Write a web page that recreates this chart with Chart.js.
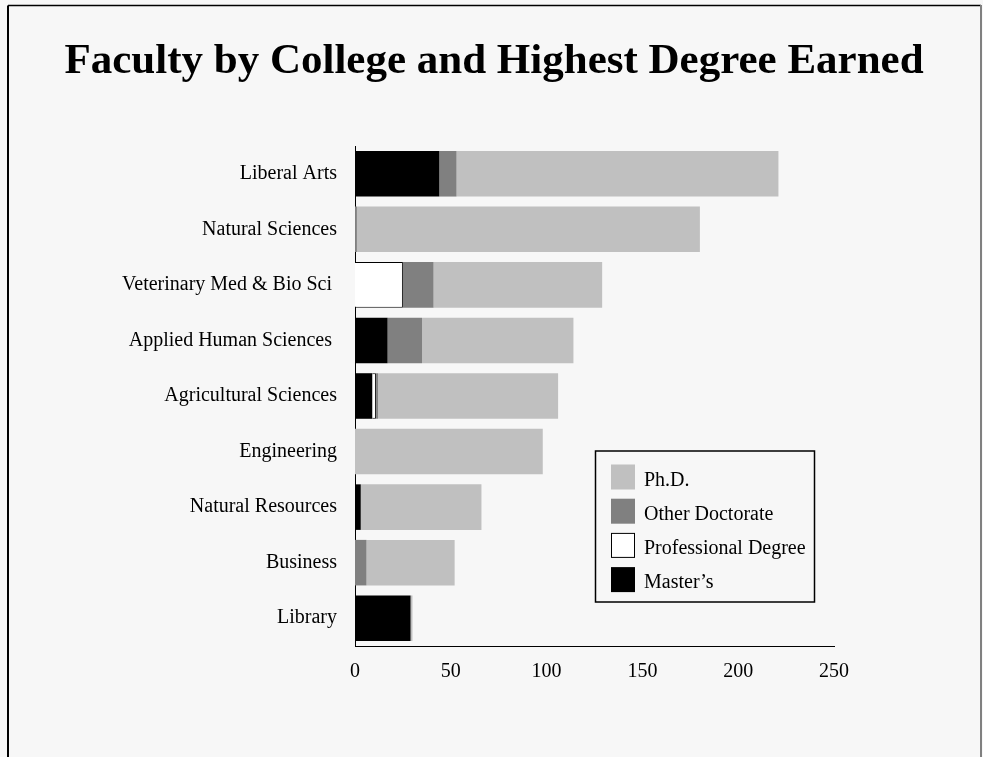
<!DOCTYPE html>
<html>
<head>
<meta charset="utf-8">
<script src="https://cdn.jsdelivr.net/npm/chart.js@4"></script>
<style>
  html, body { margin: 0; padding: 0; background: #f7f7f7; }
</style>
</head>
<body>
<canvas id="faculty" width="983" height="757"></canvas>
<script>
const chartTitle = 'Faculty by College and Highest Degree Earned';
const colleges = [
  'Liberal Arts',
  'Natural Sciences',
  'Veterinary Med & Bio Sci ',
  'Applied Human Sciences ',
  'Agricultural Sciences',
  'Engineering',
  'Natural Resources',
  'Business',
  'Library',
];
const masters = [44, 0, 0, 17, 9, 0, 3, 0, 29];
const professional = [0, 0, 25, 0, 2, 0, 0, 0, 0];
const otherDoctorate = [9, 1, 16, 18, 1, 0, 0, 6, 0];
const phd = [168, 179, 88, 79, 94, 98, 63, 46, 1];
const xTicks = [0, 50, 100, 150, 200, 250];

const serif = "'Liberation Serif', 'DejaVu Serif', serif";

// fond gris, cadre de la page et titre
const background = {
  id: 'background',
  beforeDraw(chart) {
    const ctx = chart.ctx;
    ctx.save();
    ctx.fillStyle = '#f7f7f7';
    ctx.fillRect(0, 0, chart.width, chart.height);
    ctx.strokeStyle = '#000';
    ctx.lineWidth = 2;
    ctx.beginPath();
    ctx.moveTo(8, chart.height);
    ctx.lineTo(8, 5.5);
    ctx.stroke();
    ctx.lineWidth = 1.5;
    ctx.beginPath();
    ctx.moveTo(8, 5.5);
    ctx.lineTo(981, 5.5);
    ctx.stroke();
    ctx.strokeStyle = '#808080';
    ctx.lineWidth = 2;
    ctx.beginPath();
    ctx.moveTo(981, 5);
    ctx.lineTo(981, chart.height);
    ctx.stroke();

    ctx.fillStyle = '#000';
    ctx.font = 'bold 43px ' + serif;
    ctx.textAlign = 'center';
    ctx.textBaseline = 'alphabetic';
    ctx.fillText(chartTitle, 494, 73);
    ctx.restore();
  },
};

const boxLegend = {
  id: 'boxLegend',
  afterDraw(chart) {
    const ctx = chart.ctx;
    const items = chart.data.datasets.slice().reverse();
    ctx.save();
    ctx.strokeStyle = '#000';
    ctx.lineWidth = 1.5;
    ctx.strokeRect(595.5, 451, 219, 151);
    ctx.font = '20px ' + serif;
    ctx.textBaseline = 'alphabetic';
    items.forEach((ds, i) => {
      const y = 464.5 + i * 34.2;
      ctx.fillStyle = ds.backgroundColor;
      ctx.fillRect(611, y, 24, 25);
      if (ds.borderWidth) {
        ctx.lineWidth = 1;
        ctx.strokeStyle = '#000';
        ctx.strokeRect(611.5, y + 0.5, 23, 24);
      }
      ctx.fillStyle = '#000';
      ctx.fillText(ds.label, 644, y + 21);
    });
    ctx.restore();
  },
};

new Chart(document.getElementById('faculty').getContext('2d'), {
  type: 'bar',
  data: {
    labels: colleges,
    datasets: [
      { label: 'Master’s', data: masters, backgroundColor: '#000000', borderWidth: 0 },
      { label: 'Professional Degree', data: professional, backgroundColor: '#ffffff', borderColor: '#000000', borderWidth: 1 },
      { label: 'Other Doctorate', data: otherDoctorate, backgroundColor: '#808080', borderWidth: 0 },
      { label: 'Ph.D.', data: phd, backgroundColor: '#c0c0c0', borderWidth: 0 },
    ],
  },
  options: {
    indexAxis: 'y',
    responsive: false,
    animation: false,
    barPercentage: 0.82,
    categoryPercentage: 1,
    layout: { padding: { left: 0, right: 149, top: 146, bottom: 0 } },
    scales: {
      x: {
        stacked: true,
        min: 0,
        max: 250,
        afterBuildTicks: (scale) => {
          scale.ticks = xTicks.map((v) => ({ value: v }));
        },
        afterFit: (scale) => {
          scale.height = 111;
        },
        grid: { display: false, drawTicks: false },
        border: { display: true, color: '#000', width: 1 },
        ticks: { color: '#000', padding: 14, font: { family: serif, size: 20 } },
      },
      y: {
        stacked: true,
        afterFit: (scale) => {
          scale.width = 355;
        },
        grid: { display: false, drawTicks: false },
        border: { display: true, color: '#000', width: 1 },
        ticks: { color: '#000', padding: 18, autoSkip: false, font: { family: serif, size: 20 } },
      },
    },
    plugins: {
      legend: { display: false },
      tooltip: { enabled: false },
      title: { display: false },
    },
  },
  plugins: [background, boxLegend],
});
</script>
</body>
</html>
